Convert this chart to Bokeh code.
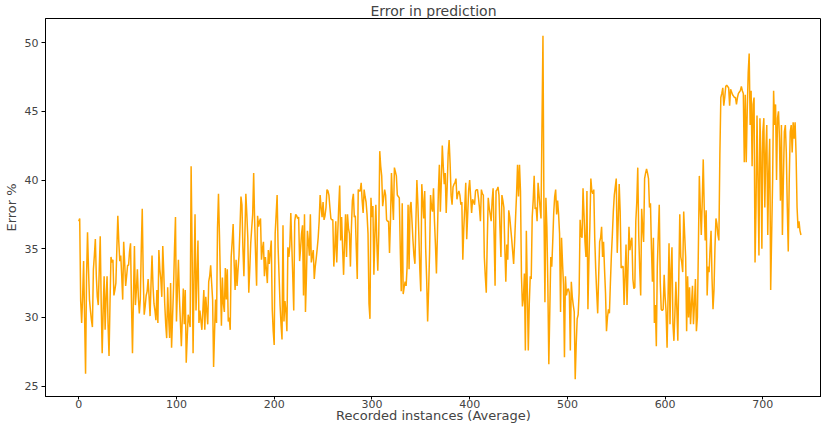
from bokeh.plotting import figure
from bokeh.models import Range1d, FixedTicker
from bokeh.embed import file_html
from bokeh.resources import INLINE

x_ticks = [0, 100, 200, 300, 400, 500, 600, 700]
y_ticks = [25, 30, 35, 40, 45, 50]

error_pct = [
    37.0, 37.2, 31.2, 29.6, 31.5, 34.1, 30.0, 25.9, 33.0, 36.2, 33.5, 31.3, 30.5, 29.8, 29.3, 33.5, 34.5, 35.7, 33.0, 31.5,
    30.9, 33.5, 35.9, 31.0, 27.4, 30.5, 33.0, 29.1, 31.5, 33.0, 29.5, 27.2, 31.0, 34.4, 34.0, 34.2, 31.6, 32.0, 32.5, 35.0,
    37.4, 35.5, 34.1, 34.5, 33.0, 31.3, 35.5, 34.0, 32.3, 33.0, 33.8, 33.8, 34.8, 35.4, 31.0, 27.4, 31.5, 35.2, 30.9, 32.0,
    33.5, 31.5, 30.3, 31.3, 35.0, 37.9, 33.0, 30.2, 30.8, 31.6, 31.9, 32.8, 31.5, 30.1, 32.5, 34.5, 32.3, 31.0, 30.5, 29.8,
    32.0, 29.6, 34.9, 33.5, 32.8, 31.5, 35.2, 33.3, 31.0, 29.5, 28.5, 32.2, 30.0, 28.5, 32.5, 27.8, 30.0, 32.1, 35.0, 37.3,
    29.7, 32.0, 34.2, 31.5, 29.7, 27.9, 30.0, 32.1, 29.5, 32.0, 26.7, 28.5, 30.2, 29.8, 29.3, 41.0, 35.0, 27.4, 33.0, 37.5,
    30.5, 33.0, 35.6, 29.6, 30.5, 29.8, 29.1, 30.5, 32.0, 29.1, 31.5, 30.5, 29.5, 32.6, 33.0, 33.8, 32.5, 31.3, 26.4, 29.0,
    31.3, 29.6, 36.5, 39.0, 36.0, 32.5, 29.4, 32.9, 31.0, 30.4, 33.6, 31.3, 33.5, 29.7, 30.0, 29.1, 34.4, 35.5, 36.8, 34.0,
    32.0, 34.2, 32.3, 33.5, 34.5, 36.5, 38.8, 38.2, 35.0, 33.0, 36.0, 39.0, 37.5, 35.8, 31.8, 33.5, 35.4, 36.5, 37.5, 40.5,
    37.0, 34.5, 32.3, 37.4, 36.6, 37.0, 37.2, 34.2, 35.0, 35.5, 33.0, 34.4, 33.5, 32.5, 34.9, 33.9, 34.8, 35.6, 30.6, 29.0,
    28.0, 36.1, 37.5, 38.9, 35.1, 33.0, 30.9, 29.5, 28.4, 36.7, 29.7, 31.2, 30.5, 29.0, 35.1, 34.4, 35.2, 37.6, 35.3, 33.0,
    30.5, 37.0, 37.5, 37.4, 37.2, 37.3, 34.1, 35.0, 36.1, 36.7, 31.6, 37.5, 30.4, 33.0, 36.3, 35.5, 34.5, 37.5, 34.0, 34.5,
    34.9, 32.8, 33.7, 34.3, 35.0, 35.8, 37.0, 38.9, 38.0, 37.3, 38.4, 37.1, 37.4, 38.0, 39.3, 39.2, 38.9, 38.0, 37.2, 37.1,
    37.1, 33.7, 35.0, 37.0, 34.0, 36.1, 38.0, 39.6, 35.6, 37.3, 35.0, 33.1, 35.5, 37.5, 34.4, 37.5, 36.5, 36.1, 33.7, 36.5,
    38.5, 39.0, 37.3, 37.4, 35.0, 32.8, 39.3, 39.2, 39.2, 39.8, 38.5, 37.6, 39.3, 38.8, 38.4, 37.5, 36.1, 31.0, 29.9, 38.7,
    37.3, 38.1, 33.1, 36.0, 38.2, 35.5, 33.4, 36.1, 42.1, 41.0, 40.3, 38.1, 38.7, 39.3, 38.9, 37.1, 37.0, 37.0, 34.7, 37.1,
    40.5, 38.5, 37.1, 40.9, 40.6, 40.3, 38.9, 38.8, 38.7, 35.0, 31.9, 38.3, 31.7, 32.2, 32.6, 32.3, 33.7, 38.2, 33.5, 38.0,
    38.4, 37.0, 35.6, 34.5, 33.9, 37.0, 40.0, 38.3, 36.0, 33.5, 31.9, 39.7, 38.5, 37.2, 39.2, 35.0, 32.8, 29.7, 32.0, 34.7,
    38.9, 38.0, 37.7, 39.4, 37.0, 35.3, 33.2, 36.0, 39.2, 41.1, 37.7, 39.9, 42.5, 41.0, 39.7, 40.5, 37.6, 39.5, 41.9, 42.9,
    41.2, 38.9, 38.2, 39.5, 39.7, 39.8, 40.1, 38.6, 39.0, 39.2, 38.9, 38.2, 38.4, 34.2, 36.5, 38.0, 39.8, 35.7, 37.5, 39.3,
    40.0, 38.8, 37.6, 38.6, 38.4, 38.2, 39.2, 39.3, 39.3, 38.7, 38.0, 37.0, 39.3, 39.0, 38.9, 34.4, 33.0, 31.8, 35.5, 38.7,
    38.0, 37.5, 37.0, 38.5, 39.4, 36.0, 32.3, 39.2, 39.3, 39.5, 38.9, 36.5, 34.4, 38.9, 38.5, 38.0, 35.0, 32.6, 35.3, 34.2,
    37.8, 37.3, 36.5, 35.7, 34.8, 33.9, 35.5, 37.3, 39.0, 41.1, 38.8, 41.1, 39.2, 33.0, 30.8, 31.4, 33.2, 27.6, 36.3, 32.0,
    27.6, 31.0, 33.0, 32.8, 37.3, 38.5, 40.3, 37.9, 38.0, 37.0, 39.8, 38.9, 38.0, 37.2, 44.0, 50.5, 38.0, 31.1, 38.7, 36.6,
    32.3, 26.6, 30.5, 34.4, 33.7, 35.5, 37.6, 38.8, 39.3, 37.5, 38.5, 37.5, 36.1, 30.4, 35.8, 34.0, 32.4, 27.1, 33.0, 31.6,
    32.0, 32.1, 31.8, 27.6, 32.6, 31.5, 30.9, 30.4, 25.5, 28.0, 29.9, 30.2, 31.8, 37.1, 36.0, 35.8, 39.4, 37.5, 35.5, 34.4,
    39.2, 30.6, 34.0, 36.6, 40.1, 39.2, 39.0, 39.3, 35.7, 33.5, 31.8, 30.3, 33.0, 35.5, 35.8, 36.6, 34.4, 35.5, 33.5, 31.8,
    29.0, 30.0, 30.6, 30.3, 32.5, 34.5, 36.0, 37.7, 38.9, 39.5, 40.1, 34.7, 37.0, 39.7, 37.7, 33.6, 33.7, 33.7, 30.9, 33.0,
    35.3, 30.9, 33.5, 36.6, 34.9, 35.5, 35.8, 32.8, 32.1, 32.2, 37.0, 38.4, 40.9, 36.0, 33.5, 31.6, 37.9, 36.5, 35.5, 40.1,
    40.5, 40.8, 40.5, 40.1, 38.0, 38.3, 35.0, 32.6, 35.8, 29.6, 30.9, 27.9, 33.7, 36.0, 38.2, 32.6, 30.6, 30.5, 30.6, 33.1,
    31.5, 30.4, 27.8, 31.5, 35.4, 29.5, 33.5, 35.1, 29.5, 28.3, 30.3, 32.6, 30.6, 28.3, 33.0, 37.5, 34.4, 34.0, 33.3, 37.7,
    36.0, 34.4, 29.0, 33.0, 30.0, 32.2, 29.5, 31.0, 32.3, 29.5, 31.0, 32.8, 29.0, 30.0, 34.9, 40.3, 38.0, 36.0, 38.5, 41.5,
    38.0, 35.6, 37.8, 31.6, 33.7, 33.3, 35.0, 36.3, 32.8, 30.6, 32.0, 35.1, 37.2, 36.8, 36.0, 35.6, 41.8, 46.0, 46.3, 46.7,
    45.4, 46.0, 46.8, 46.9, 46.8, 46.7, 45.4, 46.6, 46.4, 46.2, 46.1, 46.0, 46.0, 45.5, 46.0, 46.3, 46.4, 46.5, 46.8, 46.5,
    46.3, 41.3, 46.2, 41.3, 45.0, 47.8, 49.2, 44.0, 46.5, 41.0, 45.5, 46.0, 34.0, 38.0, 44.7, 40.0, 34.5, 44.5, 42.0, 35.0,
    43.5, 44.5, 38.0, 42.0, 44.0, 36.0, 40.5, 43.0, 32.0, 36.0, 40.0, 46.5, 44.0, 45.5, 40.0, 44.5, 45.0, 43.0, 38.5, 44.0,
    36.0, 40.0, 43.5, 44.0, 42.0, 38.0, 34.8, 40.0, 43.5, 44.0, 42.0, 44.2, 43.0, 44.2, 41.8, 38.0, 36.5, 37.0, 36.3, 36.0,
]
instances = list(range(len(error_pct)))

FONT = "DejaVu Sans"

p = figure(width=821, height=425, output_backend="svg", toolbar_location=None,
           x_range=Range1d(-34, 760), y_range=Range1d(24.25, 51.75),
           title="Error in prediction",
           min_border_left=0, min_border_right=0, min_border_top=0, min_border_bottom=0)

p.line(instances, error_pct, line_color="#FFA500", line_width=1.5)

p.title.align = "center"
p.title.text_font = FONT
p.title.text_font_size = "14px"
p.title.text_font_style = "normal"
p.title.standoff = 0
p.title.offset = 0

p.xaxis.ticker = FixedTicker(ticks=x_ticks)
p.yaxis.ticker = FixedTicker(ticks=y_ticks)
p.xaxis.axis_label = "Recorded instances (Average)"
p.yaxis.axis_label = "Error %"
for ax in (p.xaxis, p.yaxis):
    ax.axis_label_text_font = FONT
    ax.axis_label_text_font_size = "13px"
    ax.axis_label_text_font_style = "normal"
    ax.major_label_text_font = FONT
    ax.major_label_text_font_size = "11px"
    ax.major_tick_in = 0
    ax.major_tick_out = 4
    ax.minor_tick_line_color = None
    ax.axis_line_color = "black"
p.xaxis.major_tick_out = 3
p.xaxis.major_label_standoff = 0
p.xaxis.axis_label_standoff = -3
p.yaxis.major_label_standoff = 3
p.yaxis.axis_label_standoff = 3

p.xgrid.grid_line_color = None
p.ygrid.grid_line_color = None
p.outline_line_color = "black"
p.outline_line_alpha = 1.0
p.background_fill_color = "white"
p.border_fill_color = "white"

open("out.html", "w").write(file_html(p, INLINE))
